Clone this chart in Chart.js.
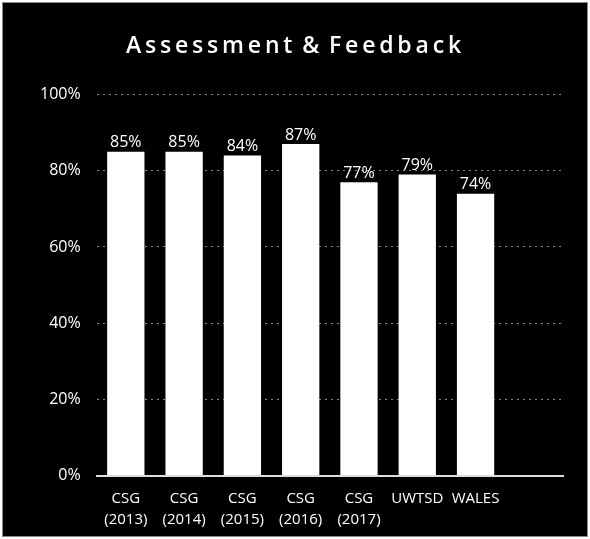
<!DOCTYPE html>
<html>
<head>
<meta charset="utf-8">
<script src="https://cdn.jsdelivr.net/npm/chart.js@4.4.0/dist/chart.umd.min.js"></script>
<style>
  html, body { margin: 0; padding: 0; background: #fff; }
  #wrap { position: absolute; left: 2px; top: 2px; width: 584px; height: 533px; background: #000; border: 1px solid #888; overflow: hidden; }
</style>
</head>
<body>
<div id="wrap"><canvas id="myChart" width="584" height="540"></canvas></div>
<script>
// categories (last slot is empty, the original leaves space there)
let labels = [['CSG', '(2013)'], ['CSG', '(2014)'], ['CSG', '(2015)'], ['CSG', '(2016)'], ['CSG', '(2017)'], 'UWTSD', 'WALES', ''];
let values = [85, 85, 84, 87, 77, 79, 74, null];
let yTicks = [0, 20, 40, 60, 80, 100];

// percent labels above each bar
let valueLabels = {
    id: 'valueLabels',
    afterDatasetsDraw(chart) {
        let ctx = chart.ctx;
        let meta = chart.getDatasetMeta(0);
        ctx.save();
        ctx.fillStyle = '#fff';
        ctx.font = '16px "Open Sans"';
        ctx.textAlign = 'center';
        ctx.textBaseline = 'bottom';
        meta.data.forEach(function (bar, i) {
            if (values[i] == null) return;
            ctx.fillText(values[i] + '%', bar.x, bar.y - 1);
        });
        ctx.restore();
    }
};

let myChart = document.getElementById("myChart").getContext('2d');

let chart = new Chart(myChart, {
    type: 'bar',
    data: {
        labels: labels,
        datasets: [{
            data: values,
            backgroundColor: '#fff',
            categoryPercentage: 1,
            barPercentage: 0.64
        }]
    },
    options: {
        responsive: false,
        animation: false,
        layout: { padding: { left: 21, right: 24, top: 10, bottom: 0 } },
        plugins: {
            legend: { display: false },
            tooltip: { enabled: false },
            title: {
                display: true,
                text: 'A s s e s s m e n t  &  F e e d b a c k'.replace(/ (?! )/g, '\u2009'),
                color: '#fff',
                font: { family: '"Open Sans"', size: 23, weight: '600' },
                padding: { top: 20, bottom: 34 }
            }
        },
        scales: {
            x: {
                grid: { display: false, drawTicks: false },
                border: { color: '#ddd', width: 2 },
                ticks: {
                    color: '#fff',
                    font: { family: '"Open Sans"', size: 15, lineHeight: 1.45 },
                    maxRotation: 0,
                    autoSkip: false,
                    padding: 12
                }
            },
            y: {
                min: 0,
                max: 100,
                afterBuildTicks: function (axis) {
                    axis.ticks = yTicks.map(function (v) { return { value: v }; });
                },
                grid: { color: '#888', drawTicks: false },
                border: { display: false, dash: [2, 4] },
                ticks: {
                    color: '#fff',
                    font: { family: '"Open Sans"', size: 16 },
                    padding: 16,
                    callback: function (v) { return v + '%'; }
                }
            }
        }
    },
    plugins: [valueLabels]
});
</script>
</body>
</html>
